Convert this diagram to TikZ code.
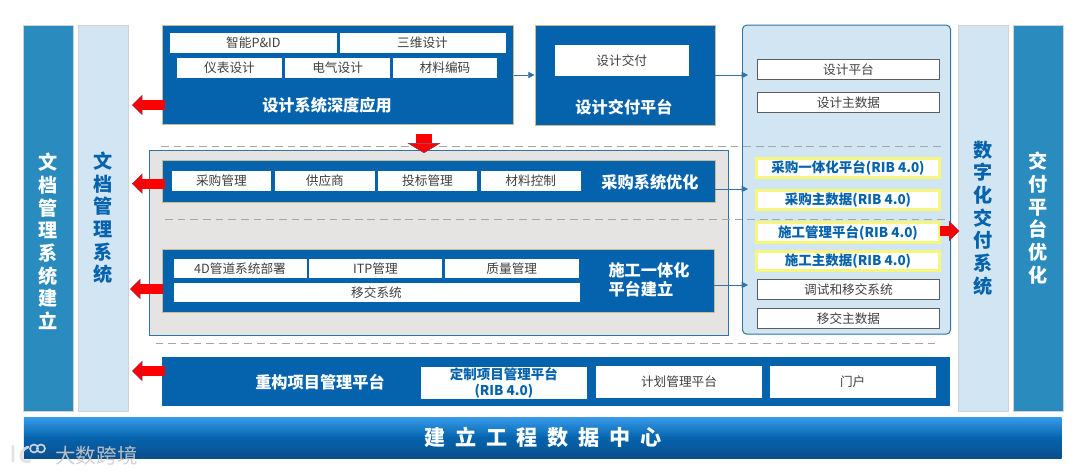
\documentclass[tikz,border=0pt]{standalone}
\usepackage{fontspec}
\setmainfont{Noto Sans CJK SC}
\usetikzlibrary{arrows.meta}
\definecolor{deepblue}{HTML}{0563AD}
\definecolor{midblue}{HTML}{2A8BBF}
\definecolor{paleblue}{HTML}{D2E5F2}
\definecolor{edgeblue}{HTML}{2E75A6}
\definecolor{tanedge}{HTML}{C8BC90}
\definecolor{boxgray}{HTML}{E5E4E2}
\definecolor{softyellow}{HTML}{F6F67A}
\definecolor{textgray}{HTML}{404040}
\definecolor{barlight}{HTML}{379BEA}
\definecolor{bardark}{HTML}{0A4F8C}
\tikzset{
  sz/.style 2 args={minimum width=#1*0.025cm,minimum height=#2*0.025cm},
  bluebox/.style={fill=deepblue,draw=tanedge,line width=0.6pt,inner sep=0pt},
  subbox/.style={fill=white,text=textgray,inner sep=0pt,font=\fontsize{9pt}{11pt}\selectfont},
  framebox/.style={subbox,draw=textgray!85,line width=0.5pt,sz={181.8}{20}},
  yellowbox/.style={fill=white,draw=softyellow,line width=2pt,text=deepblue,inner sep=0pt,sz={182.5}{19.5},font=\fontsize{9.6pt}{11pt}\selectfont\bfseries},
  bluetitle/.style={text=white,inner sep=0pt,font=\fontsize{11.5pt}{13.5pt}\selectfont\bfseries},
  sidebar/.style={inner sep=0pt,sz={50.5}{386},align=center,line width=0.6pt,font=\fontsize{13.6pt}{16.1pt}\selectfont\bfseries},
  redarrow/.style={draw=red,line width=7pt,-{Triangle[length=7.4pt,width=14.4pt,fill=red,color=deepblue!55!red,line width=0.3pt]}},
  thinarrow/.style={draw=edgeblue,line width=0.6pt,-{Triangle[length=4.5pt,width=4.5pt]}},
  sepline/.style={draw=gray!70,line width=0.7pt,dash pattern=on 5.5pt off 3.5pt}
}
\begin{document}
\begin{tikzpicture}[x=0.025cm,y=-0.025cm]
\useasboundingbox (0,0) rectangle (1080,475);

\node[sidebar,fill=midblue,draw=gray!35] (docbuild) at (48.4,218) {};
\node[sidebar,draw=none,text=white,minimum height=0pt] (docbuildtext) at (48.4,241.5) {文\\档\\管\\理\\系\\统\\建\\立};
\node[sidebar,fill=paleblue,draw=gray!35,text=deepblue] (docsys) at (103.5,218) {文\\档\\管\\理\\系\\统};
\node[sidebar,fill=paleblue,draw=gray!35,text=deepblue] (digital) at (983.4,218) {数\\字\\化\\交\\付\\系\\统};
\node[sidebar,fill=midblue,draw=gray!35,text=white] (handover) at (1038.4,218) {交\\付\\平\\台\\优\\化};

\node[fill=boxgray,draw=edgeblue,line width=0.7pt,sz={579}{185}] (graypanel) at (439,242.5) {};
\node[fill=paleblue,draw=edgeblue,line width=0.7pt,rounded corners=3pt,sz={208}{309}] (rightpanel) at (846.5,179.6) {};

\draw[sepline] (161,146.7) -- (944.6,146.7);
\draw[sepline] (165,219) -- (945,219);
\draw[sepline] (155.6,343) -- (939.5,343);

\node[bluebox,sz={351.3}{99.5}] (design) at (338.2,75) {};
\node[subbox,sz={166.8}{20}] (pid) at (253.4,43) {智能P\&ID};
\node[subbox,sz={166}{20}] (model) at (422.5,43) {三维设计};
\node[subbox,sz={104.4}{20}] (instr) at (229.5,68) {仪表设计};
\node[subbox,sz={104.3}{20}] (elec) at (337.6,68) {电气设计};
\node[subbox,sz={104.4}{20}] (matcode) at (445,68) {材料编码};
\node[bluetitle] (designtitle) at (327,105) {设计系统深度应用};

\node[bluebox,sz={180}{100}] (delivery) at (625,75) {};
\node[subbox,sz={134.5}{30.5}] (deliverysub) at (621.8,60.7) {设计交付};
\node[bluetitle] (deliverytitle) at (624,107) {设计交付平台};

\node[bluebox,sz={552.5}{42}] (procure) at (438.8,181) {};
\node[subbox,sz={99.7}{20}] (purchase) at (221.4,181) {采购管理};
\node[subbox,sz={99.7}{20}] (supplier) at (324.9,181) {供应商};
\node[subbox,sz={99.7}{20}] (bidding) at (427.5,181) {投标管理};
\node[subbox,sz={99.7}{20}] (matctrl) at (530.8,181) {材料控制};
\node[bluetitle] (procuretitle) at (650,182) {采购系统优化};

\node[bluebox,sz={551.5}{63.3}] (construct) at (438.3,280.6) {};
\node[subbox,sz={133}{19.6}] (pipe) at (240,268.5) {4D管道系统部署};
\node[subbox,sz={132.8}{19.6}] (itp) at (375.4,268.5) {ITP管理};
\node[subbox,sz={133.6}{19.6}] (quality) at (511.8,268.5) {质量管理};
\node[subbox,sz={406}{19.4}] (transfer) at (376.5,292.4) {移交系统};
\node[bluetitle,align=left] (constructtitle) at (649,279.5) {施工一体化\\平台建立};

\node[fill=deepblue,inner sep=0pt,sz={787.8}{49.6}] (rebuild) at (556,381.5) {};
\node[bluetitle] (rebuildtitle) at (320,382) {重构项目管理平台};
\node[subbox,sz={166}{32},text=deepblue,align=center,font=\fontsize{9.6pt}{11.5pt}\selectfont\bfseries] (custom) at (503.9,383) {定制项目管理平台\\(RIB 4.0)};
\node[subbox,sz={166}{32}] (plan) at (679,382) {计划管理平台};
\node[subbox,sz={166}{32}] (portal) at (852.7,382) {门户};

\node[framebox] (dplat) at (848.5,69.2) {设计平台};
\node[framebox] (ddata) at (848.5,102.2) {设计主数据};
\node[yellowbox] (pplat) at (848,168) {采购一体化平台(RIB 4.0)};
\node[yellowbox] (pdata) at (848,200) {采购主数据(RIB 4.0)};
\node[yellowbox] (cplat) at (848,232.6) {施工管理平台(RIB 4.0)};
\node[yellowbox] (cdata) at (848,261) {施工主数据(RIB 4.0)};
\node[framebox] (tplat) at (848.5,289.3) {调试和移交系统};
\node[framebox] (tdata) at (848.5,318.2) {移交主数据};

\node[sz={1037.7}{41},inner sep=0pt,top color=barlight,bottom color=bardark,middle color=deepblue,text=white,font=\fontsize{15pt}{17pt}\selectfont\bfseries\addfontfeature{LetterSpace=46}] (datacenter) at (542.8,437.8) {\raisebox{-0.7pt}{建立工程数据中心}};

\coordinate (pa) at (748,75);
\coordinate (pb) at (748,189);
\coordinate (pc) at (748,285);
\draw[thinarrow] (design.east) -- (delivery.west);
\draw[thinarrow] (delivery.east) -- (pa);
\draw[thinarrow] (procure.east |- pb) -- (pb);
\draw[thinarrow] (construct.east |- pc) -- (pc);

\coordinate (la) at (164.6,105);
\coordinate (lb) at (164.6,183.7);
\coordinate (lc) at (163,289);
\coordinate (ld) at (165,371);
\coordinate (ta) at (132,105);
\coordinate (tb) at (132,183.7);
\coordinate (tc) at (130,289);
\coordinate (td) at (132,371);
\coordinate (da) at (424,134);
\coordinate (db) at (424,153);
\coordinate (ra) at (939.5,231);
\coordinate (rb) at (959.4,231);
\draw[redarrow] (la) -- (ta);
\draw[redarrow] (lb) -- (tb);
\draw[redarrow] (lc) -- (tc);
\draw[redarrow] (ld) -- (td);
\draw[redarrow,line width=11.7pt,-{Triangle[length=7pt,width=23.4pt,fill=red,color=deepblue!55!red,line width=0.3pt]}] (da) -- (db);
\draw[redarrow] (ra) -- (rb);

\draw[gray!25,line width=2pt,line cap=round,opacity=.9] (13,446) -- (13,461) (28,447) .. controls (17,451) and (20,465) .. (30,461);
\draw[gray!25,line width=1.2pt,opacity=.9] (34,448.5) circle (4) (41,448.5) circle (4);
\node[text=gray!40,opacity=.9,inner sep=0pt,font=\fontsize{14.6pt}{18pt}\selectfont] (watermark) at (96.5,456) {大数跨境};
\end{tikzpicture}
\end{document}
